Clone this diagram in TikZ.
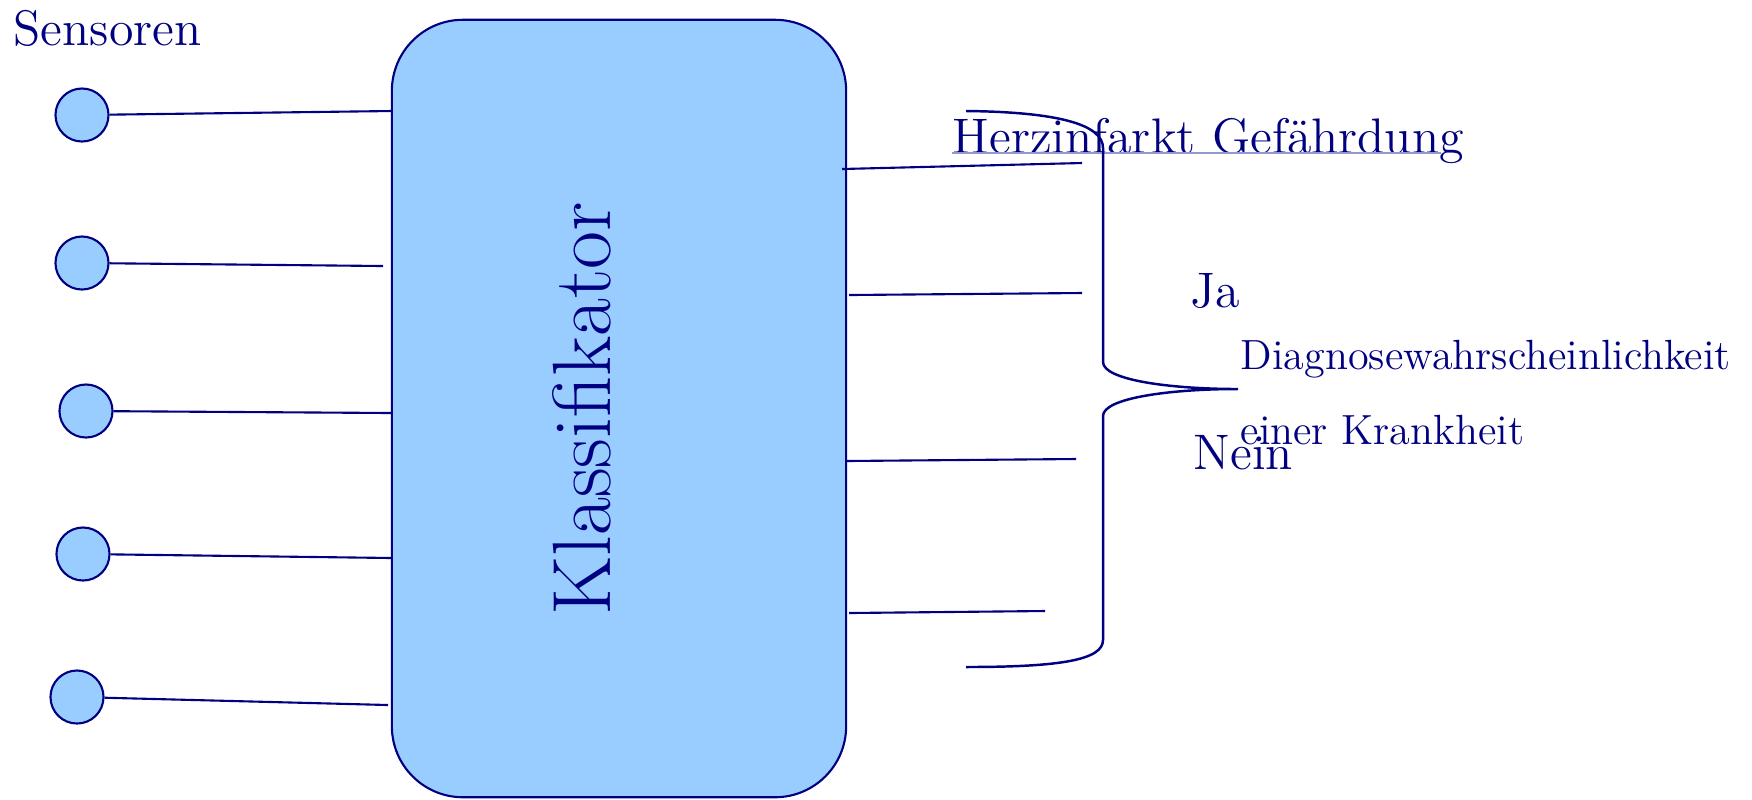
\documentclass[tikz,border=0pt]{standalone}
\usepackage{tikz}
\usetikzlibrary{positioning,calc}
\definecolor{navy}{RGB}{0,0,128}
\definecolor{skyfill}{RGB}{153,204,255}
\definecolor{lavline}{RGB}{150,150,210}
\tikzset{
  sensor/.style={circle,draw=navy,fill=skyfill,line width=0.6pt,minimum size=5.3mm,inner sep=0pt},
  classbox/.style={rectangle,draw=navy,fill=skyfill,line width=0.6pt,
    rounded corners=7.1mm,minimum width=45.4mm,minimum height=77.7mm},
  lbl/.style={text=navy,inner sep=0pt,anchor=base west,font=\fontsize{14.2}{17}\selectfont},
  smalllbl/.style={lbl,font=\fontsize{12}{14}\selectfont},
  wire/.style={draw=navy,line width=0.6pt},
  brace/.style={draw=navy,line width=0.7pt}
}
\begin{document}
\begin{tikzpicture}[x=0.01cm,y=-0.01cm]
  \useasboundingbox (0,0) rectangle (1752,799);

  \node [classbox] (box) at (619,408.5) {};
  \node [lbl,anchor=base,rotate=90,font=\fontsize{23.5}{28}\selectfont] (klass) at (610,409) {Klassifikator};

  \node [lbl] (sens) at (13,45) {Sensoren};
  \node [sensor] (s1) at (82,115) {};
  \node [sensor] (s2) at (82,263) {};
  \node [sensor] (s3) at (86,411) {};
  \node [sensor] (s4) at (83,554) {};
  \node [sensor] (s5) at (77,697) {};

  % ends of the input wires
  \coordinate (i1) at (392,111);
  \coordinate (i2) at (383,266);
  \coordinate (i3) at (392,413);
  \coordinate (i4) at (392,558);
  \coordinate (i5) at (388,705);

  % output wires
  \coordinate (o1a) at (842,169);  \coordinate (o1b) at (1082,163);
  \coordinate (o2a) at (849,295);  \coordinate (o2b) at (1082,293);
  \coordinate (o3a) at (846,461);  \coordinate (o3b) at (1076,459);
  \coordinate (o4a) at (849,613);  \coordinate (o4b) at (1045,611);

  \node [lbl] (herz) at (952,153) {Herzinfarkt Gef\"ahrdung};
  \node [lbl] (ja) at (1190,307) {Ja};
  \node [lbl] (nein) at (1193,469) {Nein};
  \node [smalllbl] (diag) at (1240,369) {Diagnosewahrscheinlichkeit};
  \node [smalllbl] (krank) at (1240,444) {einer Krankheit};

  % brace points
  \coordinate (btop) at (966,111);
  \coordinate (bmid) at (1238,389);
  \coordinate (bbot) at (966,667);

  \path (s1) edge [wire] (i1)
        (s2) edge [wire] (i2)
        (s3) edge [wire] (i3)
        (s4) edge [wire] (i4)
        (s5) edge [wire] (i5)
        (o1a) edge [wire] (o1b)
        (o2a) edge [wire] (o2b)
        (o3a) edge [wire] (o3b)
        (o4a) edge [wire] (o4b);

  \draw [lavline,line width=0.4pt] (herz.base west) -- ++(489,0);

  \draw [brace] (btop) .. controls (1060,112) and (1103,125) .. (1103,148)
        -- (1103,362) .. controls (1103,380) and (1170,389) .. (bmid)
        .. controls (1170,389) and (1103,398) .. (1103,416)
        -- (1103,640) .. controls (1103,660) and (1060,667) .. (bbot);
\end{tikzpicture}
\end{document}
